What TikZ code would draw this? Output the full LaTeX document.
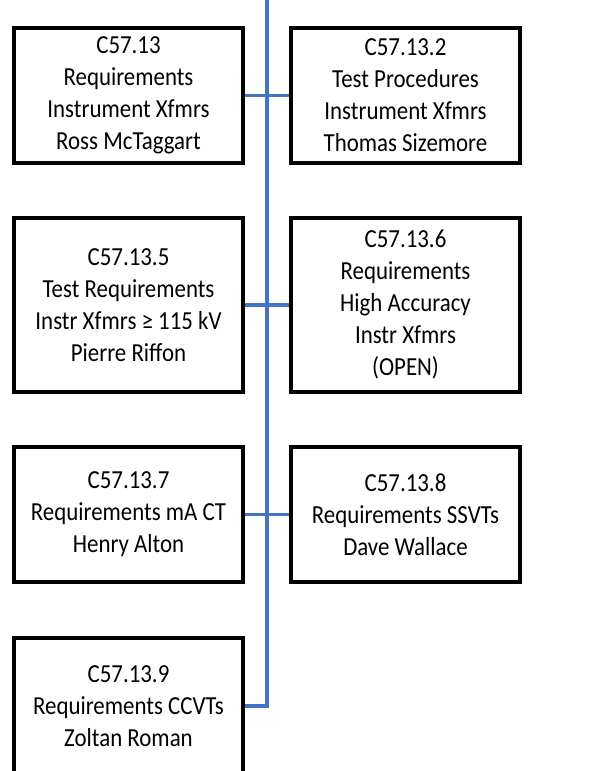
\documentclass[tikz,border=0pt]{standalone}
\usepackage{fontspec}
\setmainfont{Carlito}[FakeStretch=0.88]
\usepackage{tikz}
\definecolor{linkblue}{RGB}{68,114,196}
\tikzset{
  box/.style={draw=black, line width=4pt, minimum width=229pt, minimum height=135pt,
    align=center, inner sep=0pt, font=\fontsize{26}{32}\selectfont},
  link/.style={draw=linkblue, line width=3.5pt}
}

\begin{document}
\begin{tikzpicture}[x=1pt,y=-1pt]
\useasboundingbox (0,0) rectangle (613,771);
\coordinate (top) at (267,0);
\node[box] (b1) at (128.5,95.5) {C57.13\\Requirements\\Instrument Xfmrs\\Ross McTaggart};
\node[box] (b2) at (405.5,95.5) {C57.13.2\\Test Procedures\\Instrument Xfmrs\\Thomas Sizemore};
\node[box, minimum height=174pt] (b5) at (128.5,305) {C57.13.5\\Test Requirements\\Instr Xfmrs ≥ 115 kV\\Pierre Riffon};
\node[box, minimum height=174pt] (b6) at (405.5,305) {C57.13.6\\Requirements\\High Accuracy\\Instr Xfmrs\\(OPEN)};
\node[box] (b7) at (128.5,514.5) {C57.13.7\\Requirements mA CT\\Henry Alton};
\node[box] (b8) at (405.5,514.5) {C57.13.8\\Requirements SSVTs\\Dave Wallace};
\node[box, minimum height=136pt] (b9) at (128.5,706) {C57.13.9\\Requirements CCVTs\\Zoltan Roman};
\draw[link] (top) |- (b9.east);
\draw[link] (b1.east) -- (b2.west);
\draw[link] (b5.east) -- (b6.west);
\draw[link] (b7.east) -- (b8.west);
\end{tikzpicture}
\end{document}
